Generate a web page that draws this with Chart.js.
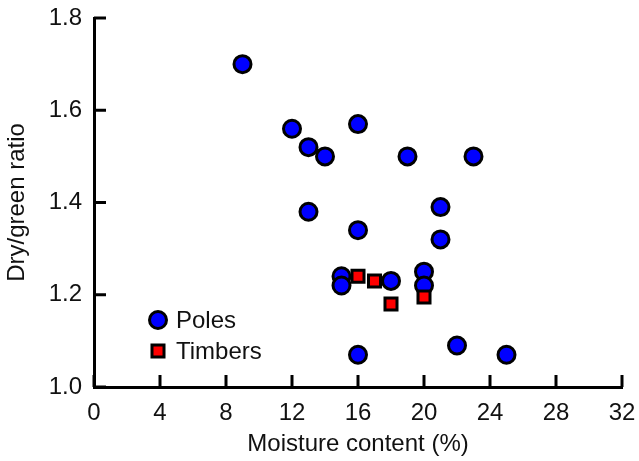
<!DOCTYPE html>
<html>
<head>
<meta charset="utf-8">
<script src="https://cdn.jsdelivr.net/npm/chart.js@4/dist/chart.umd.min.js"></script>
<style>
  html, body { margin: 0; padding: 0; background: #fff; }
  #wrap { width: 639px; height: 461px; }
</style>
</head>
<body>
<div id="wrap"><canvas id="c" width="639" height="461"></canvas></div>
<script>
// ---- Data ----
const polesX = [9, 12, 13, 14, 16, 19, 23, 13, 16, 21, 21, 15, 15, 18, 20, 20, 16, 22, 25];
const polesY = [1.70, 1.56, 1.52, 1.50, 1.57, 1.50, 1.50, 1.38, 1.34, 1.39, 1.32, 1.24, 1.22, 1.23, 1.25, 1.22, 1.07, 1.09, 1.07];
const timbersX = [16, 17, 18, 20];
const timbersY = [1.24, 1.23, 1.18, 1.195];
const xTicks = [0, 4, 8, 12, 16, 20, 24, 28, 32];
const yTicks = [1.0, 1.2, 1.4, 1.6, 1.8];
const seriesNames = ['Poles', 'Timbers'];
const xTitle = 'Moisture content (%)';
const yTitle = 'Dry/green ratio';

const FONT = '"Liberation Sans", Arial, sans-serif';
const TXT = '#111';
const FS = 24;

function pts(xs, ys) { return xs.map((x, i) => ({ x: x, y: ys[i] })); }

const innerTicks = {
  id: 'innerTicks',
  afterDraw(chart) {
    const ctx = chart.ctx;
    const xs = chart.scales.x, ys = chart.scales.y;
    const a = chart.chartArea;
    ctx.save();
    ctx.strokeStyle = '#000';
    ctx.lineWidth = 3;
    xTicks.forEach(v => {
      const px = xs.getPixelForValue(v);
      ctx.beginPath(); ctx.moveTo(px, a.bottom); ctx.lineTo(px, a.bottom - 12); ctx.stroke();
    });
    yTicks.forEach(v => {
      const py = ys.getPixelForValue(v);
      ctx.beginPath(); ctx.moveTo(a.left, py); ctx.lineTo(a.left + 12, py); ctx.stroke();
    });
    ctx.restore();
  }
};

const innerLegend = {
  id: 'innerLegend',
  afterDraw(chart) {
    const ctx = chart.ctx;
    const a = chart.chartArea;
    const cx = a.left + 64;
    const rows = [a.bottom - 67, a.bottom - 36];
    ctx.save();
    ctx.lineWidth = 3;
    ctx.strokeStyle = '#000';
    ctx.fillStyle = '#0000ff';
    ctx.beginPath(); ctx.arc(cx, rows[0], 8.5, 0, Math.PI * 2); ctx.fill(); ctx.stroke();
    ctx.fillStyle = '#ff0000';
    const s = 8.5 * Math.SQRT1_2;
    ctx.beginPath(); ctx.rect(cx - s, rows[1] - s, 2 * s, 2 * s); ctx.fill(); ctx.stroke();
    ctx.fillStyle = TXT;
    ctx.font = FS + 'px ' + FONT;
    ctx.textBaseline = 'middle';
    ctx.textAlign = 'left';
    ctx.fillText(seriesNames[0], cx + 18, rows[0] + 1);
    ctx.fillText(seriesNames[1], cx + 18, rows[1] + 1);
    ctx.restore();
  }
};

new Chart(document.getElementById('c'), {
  type: 'scatter',
  data: {
    datasets: [
      {
        label: seriesNames[0],
        data: pts(polesX, polesY),
        pointStyle: 'circle',
        pointRadius: 8.5,
        pointHoverRadius: 8.5,
        backgroundColor: '#0000ff',
        borderColor: '#000',
        borderWidth: 3,
        order: 2
      },
      {
        label: seriesNames[1],
        data: pts(timbersX, timbersY),
        pointStyle: 'rect',
        pointRadius: 8.5,
        pointHoverRadius: 8.5,
        backgroundColor: '#ff0000',
        borderColor: '#000',
        borderWidth: 3,
        order: 1
      }
    ]
  },
  options: {
    responsive: false,
    animation: false,
    devicePixelRatio: 1,
    layout: { padding: { top: 0, right: 0, left: 0, bottom: 0 } },
    plugins: { legend: { display: false }, tooltip: { enabled: false } },
    scales: {
      x: {
        type: 'linear',
        min: 0, max: 32,
        afterBuildTicks: s => { s.ticks = xTicks.map(v => ({ value: v })); },
        afterFit: s => { s.height = 74; s.paddingRight = 17; s.paddingLeft = 0; },
        grid: { display: false, drawTicks: false },
        border: { display: true, color: '#000', width: 3 },
        ticks: { color: TXT, font: { family: FONT, size: FS }, padding: 12, maxRotation: 0 },
        title: { display: true, text: xTitle, color: TXT, font: { family: FONT, size: FS }, padding: { top: 0, bottom: 2 } }
      },
      y: {
        type: 'linear',
        min: 1.0, max: 1.8,
        afterBuildTicks: s => { s.ticks = yTicks.map(v => ({ value: v })); },
        afterFit: s => { s.width = 94; s.paddingTop = 18; s.paddingBottom = 0; },
        grid: { display: false, drawTicks: false },
        border: { display: true, color: '#000', width: 3 },
        ticks: { color: TXT, font: { family: FONT, size: FS }, padding: 12, callback: v => Number(v).toFixed(1) },
        title: { display: true, text: yTitle, color: TXT, font: { family: FONT, size: FS }, padding: { top: 3, bottom: 0 } }
      }
    }
  },
  plugins: [innerTicks, innerLegend]
});
</script>
</body>
</html>
